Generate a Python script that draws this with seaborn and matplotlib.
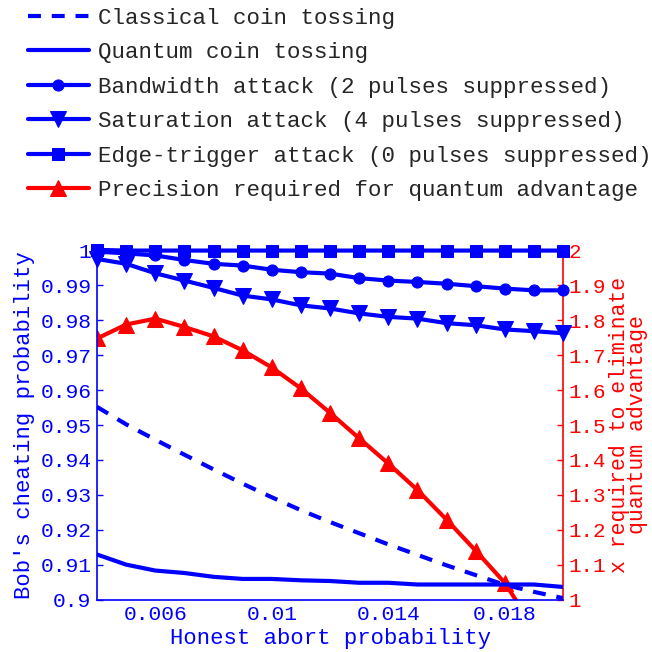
import matplotlib
matplotlib.use("Agg")
import matplotlib.pyplot as plt
import seaborn as sns
import numpy as np
import pandas as pd

# ── Data ──────────────────────────────────────────────────────
abort_prob = [0.004, 0.005, 0.006, 0.007, 0.008, 0.009, 0.010, 0.011, 0.012,
              0.013, 0.014, 0.015, 0.016, 0.017, 0.018, 0.019, 0.020]

classical = [0.9552, 0.9502, 0.9458, 0.9415, 0.9373, 0.9332, 0.9293, 0.9256,
             0.9222, 0.9190, 0.9158, 0.9128, 0.9098, 0.9070, 0.9042, 0.9022, 0.9004]
quantum = [0.9129, 0.9100, 0.9083, 0.9076, 0.9065, 0.9059, 0.9059, 0.9055,
           0.9053, 0.9048, 0.9048, 0.9043, 0.9043, 0.9043, 0.9043, 0.9043, 0.9036]
bandwidth = [0.9997, 0.9992, 0.9986, 0.9973, 0.9962, 0.9957, 0.9945, 0.9938,
             0.9934, 0.9921, 0.9914, 0.9910, 0.9905, 0.9898, 0.9891, 0.9886, 0.9886]
saturation = [0.9976, 0.9962, 0.9935, 0.9914, 0.9893, 0.9871, 0.9860, 0.9843,
              0.9834, 0.9820, 0.9810, 0.9805, 0.9792, 0.9786, 0.9774, 0.9769, 0.9763]
edge_trigger = [1.0002, 1.0, 1.0, 1.0, 1.0, 1.0, 1.0, 1.0, 1.0,
                1.0, 1.0, 1.0, 1.0, 1.0, 1.0, 1.0, 1.0]
precision = [1.748, 1.788, 1.805, 1.781, 1.754, 1.714, 1.665, 1.605, 1.535,
             1.462, 1.390, 1.314, 1.229, 1.140, 1.048, 0.918, 0.80]

left_ticks = [0.9, 0.91, 0.92, 0.93, 0.94, 0.95, 0.96, 0.97, 0.98, 0.99, 1.0]
left_labels = ["0.9", "0.91", "0.92", "0.93", "0.94", "0.95", "0.96",
               "0.97", "0.98", "0.99", "1"]
right_ticks = [1.0, 1.1, 1.2, 1.3, 1.4, 1.5, 1.6, 1.7, 1.8, 1.9, 2.0]
right_labels = ["1", "1.1", "1.2", "1.3", "1.4", "1.5", "1.6", "1.7",
                "1.8", "1.9", "2"]
x_ticks = [0.006, 0.01, 0.014, 0.018]
x_labels = ["0.006", "0.01", "0.014", "0.018"]

BLUE = "#0000ff"
RED = "#ff0000"

sns.set_style("white")
plt.rcParams["font.family"] = ["Liberation Mono", "DejaVu Sans Mono"]

df = pd.DataFrame({"p": abort_prob, "classical": classical, "quantum": quantum,
                   "bandwidth": bandwidth, "saturation": saturation,
                   "edge": edge_trigger, "precision": precision})

fig = plt.figure(figsize=(6.52, 6.52), dpi=100)
ax = fig.add_axes([0.1488, 0.0805, 0.7147, 0.5352])
ax2 = ax.twinx()

lw = 3.0
# ── Blue series on left axis ──────────────────────────────────
sns.lineplot(data=df, x="p", y="classical", ax=ax, color=BLUE, lw=lw,
             linestyle=(0, (3.1, 2.6)), label="Classical coin tossing", legend=False)
sns.lineplot(data=df, x="p", y="quantum", ax=ax, color=BLUE, lw=lw,
             label="Quantum coin tossing", legend=False)
sns.lineplot(data=df, x="p", y="bandwidth", ax=ax, color=BLUE, lw=lw,
             marker="o", markersize=8, markeredgecolor=BLUE, clip_on=False,
             label="Bandwidth attack (2 pulses suppressed)", legend=False)
sns.lineplot(data=df, x="p", y="saturation", ax=ax, color=BLUE, lw=lw,
             marker="v", markersize=12, markeredgecolor=BLUE, clip_on=False,
             label="Saturation attack (4 pulses suppressed)", legend=False)
sns.lineplot(data=df, x="p", y="edge", ax=ax, color=BLUE, lw=lw,
             marker="s", markersize=9, markeredgecolor=BLUE, clip_on=False,
             label="Edge-trigger attack (0 pulses suppressed)", legend=False)

# ── Red series on right axis ──────────────────────────────────
sns.lineplot(data=df, x="p", y="precision", ax=ax2, color=RED, lw=lw,
             marker="^", markersize=12, markeredgecolor=RED,
             label="Precision required for quantum advantage", legend=False)

ax.set_xlim(0.004, 0.020)
ax.set_ylim(0.9, 1.0)
ax2.set_ylim(1.0, 2.0)

ax.set_xticks(x_ticks)
ax.set_xticklabels(x_labels)
ax.set_yticks(left_ticks)
ax.set_yticklabels(left_labels)
ax2.set_yticks(right_ticks)
ax2.set_yticklabels(right_labels)

ax.tick_params(axis="both", direction="in", length=4, width=1, colors=BLUE,
               labelsize=15.3, pad=4)
ax2.tick_params(axis="y", direction="in", length=4, width=1, colors=RED,
                labelsize=15, pad=4)

for a in (ax, ax2):
    a.spines["top"].set_visible(False)
ax.spines["right"].set_visible(False)
ax.spines["left"].set_color(BLUE)
ax.spines["bottom"].set_color(BLUE)
ax2.spines["left"].set_visible(False)
ax2.spines["bottom"].set_visible(False)
ax2.spines["right"].set_color(RED)
for s in ("left", "bottom"):
    ax.spines[s].set_linewidth(1.2)
ax2.spines["right"].set_linewidth(1.2)

ax.set_xlabel("Honest abort probability", color=BLUE, fontsize=16, labelpad=3)
ax.set_ylabel("Bob's cheating probability", color=BLUE, fontsize=16, labelpad=4)
ax2.set_ylabel("x required to eliminate\nquantum advantage", color=RED,
               fontsize=15.5, labelpad=2, linespacing=0.8)
ax.set_zorder(ax2.get_zorder() + 1)
ax.patch.set_visible(False)

# ── Legend above the axes ─────────────────────────────────────
h1, l1 = ax.get_legend_handles_labels()
h2, l2 = ax2.get_legend_handles_labels()
fig.legend(h1 + h2, l1 + l2, loc="upper left", bbox_to_anchor=(0.043, 0.988),
           frameon=False, fontsize=16.2, handlelength=2.7, handletextpad=0.4,
           labelspacing=0.6, borderpad=0, borderaxespad=0)

fig.savefig("out.png", dpi=100)
